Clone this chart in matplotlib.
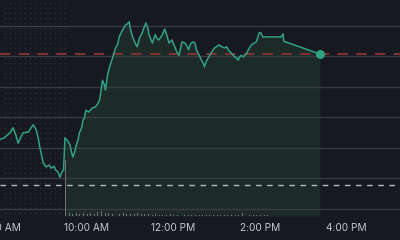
import numpy as np
import matplotlib
matplotlib.use('Agg')
import matplotlib.pyplot as plt

# intraday price, time in minutes after midnight
pre_times = [480, 485, 490, 494, 498, 502, 505, 509, 512, 519, 523, 526, 530, 533,
             535, 540, 544, 548, 551, 555, 557, 560, 563, 566, 568]
pre_prices = [11.64, 11.66, 11.71, 11.75, 11.83, 11.71, 11.58, 11.68, 11.75, 11.76,
              11.83, 11.88, 11.80, 11.66, 11.52, 11.25, 11.19, 11.22, 11.17, 11.20,
              11.14, 11.11, 11.02, 11.11, 11.14]

reg_times = [570, 573, 577, 579, 581, 584, 585, 588, 590, 593, 595, 597, 599, 603,
             608, 612, 615, 618, 622, 625, 626, 629, 632, 636, 640, 643, 645, 649,
             654, 656, 659, 660, 663, 667, 670, 673, 677, 679, 682, 685, 686, 691,
             695, 697, 700, 704, 708, 711, 714, 718, 722, 725, 728, 732, 736, 739,
             741, 744, 747, 750, 752, 757, 759, 762, 763, 766, 769, 773, 777, 780,
             783, 787, 791, 794, 796, 800, 803, 805, 807, 810, 811, 814, 817, 818,
             821, 824, 828, 832, 835, 839, 841, 844, 851, 869, 872, 873, 923]
reg_prices = [11.66, 11.63, 11.55, 11.43, 11.35, 11.46, 11.52, 11.63, 11.75, 11.83,
              11.96, 11.99, 12.12, 12.09, 12.16, 12.17, 12.22, 12.29, 12.61, 12.52,
              12.45, 12.70, 12.84, 12.98, 13.14, 13.20, 13.32, 13.42, 13.52, 13.53,
              13.57, 13.48, 13.34, 13.22, 13.16, 13.30, 13.39, 13.46, 13.55, 13.46,
              13.37, 13.22, 13.36, 13.30, 13.27, 13.34, 13.45, 13.35, 13.22, 13.27,
              13.16, 13.07, 13.02, 13.24, 13.22, 13.17, 13.11, 13.21, 13.24, 13.22,
              13.11, 12.99, 12.94, 12.88, 12.83, 12.93, 12.99, 13.07, 13.14, 13.16,
              13.19, 13.16, 13.14, 13.16, 13.11, 13.06, 13.02, 12.99, 12.98, 12.94,
              12.98, 13.02, 12.99, 13.01, 13.04, 13.11, 13.19, 13.22, 13.24, 13.39,
              13.39, 13.32, 13.32, 13.32, 13.37, 13.25, 13.04]

prev_close = 13.04
low_level = 10.89

# volume (thousands) per 5-minute bucket from the open
vol_start = 570
volumes = [1120, 60, 40, 60, 40, 60, 40, 60, 40, 80, 100, 60, 60, 40, 60, 40,
           60, 40, 40, 40, 60, 40, 40, 40, 20, 40, 20, 20, 20, 40, 20, 20, 20,
           20, 20, 20, 20, 20, 20, 20, 20, 20, 20, 20, 20, 20, 20, 20, 20, 60,
           20, 20, 20, 20, 20, 20, 20]

tick_minutes = [480, 600, 720, 840, 960]
tick_labels = ['8:00 AM', '10:00 AM', '12:00 PM', '2:00 PM', '4:00 PM']

bg = '#16191f'
line_c = '#33a184'
fill_c = '#1c2b28'
grid_c = '#383b41'
text_c = '#c4c7cc'

plt.rcParams['font.family'] = ['Inter', 'DejaVu Sans']

fig = plt.figure(figsize=(4, 2.4), dpi=100, facecolor=bg)
ax = fig.add_axes([0, 0.1, 1, 0.9])
ax.set_facecolor(bg)

xmin, xmax = 484.7, 1033.9
ymin, ymax = 10.385, 13.926
ax.set_xlim(xmin, xmax)
ax.set_ylim(ymin, ymax)

# pre-market dotted texture
gx, gy = np.meshgrid(np.arange(xmin + 2, 570, 6.9), np.arange(ymin + 0.05, ymax, 0.082))
ax.scatter(gx.ravel(), gy.ravel(), s=0.9, color='#30343b', linewidths=0, zorder=1)

# regular session fill
ax.fill_between(reg_times, reg_prices, ymin, color=fill_c, zorder=1, linewidth=0)

for lvl in [13.5, 13.0, 12.5, 12.0, 11.5, 11.0, 10.5]:
    ax.axhline(lvl, color=grid_c, lw=1, zorder=2)

ax.plot(pre_times, pre_prices, color=line_c, lw=1.1, zorder=4)
ax.plot([pre_times[-1], reg_times[0]], [pre_prices[-1], reg_prices[0]], color=line_c, lw=1.1, zorder=4)
ax.plot(reg_times, reg_prices, color=line_c, lw=1.1, zorder=4)

ax.axhline(prev_close, color='#7d3232', lw=1.5, dashes=(5, 4), zorder=3)
ax.axhline(low_level, color='#b8babd', lw=1, dashes=(4, 4), zorder=3)

ax.scatter([reg_times[-1]], [reg_prices[-1]], s=42, color=line_c, zorder=6, linewidths=0)

ax.set_xticks(tick_minutes)
ax.set_xticklabels(tick_labels, color=text_c, fontsize=7.3)
ax.tick_params(axis='x', length=0, pad=5)
ax.set_yticks([])
for s in ax.spines.values():
    s.set_visible(False)

# volume on its own scale at the bottom, drawn above the price axes
vax = ax.twinx()
vax.set_ylim(0, 216 * 20)
vtimes = vol_start + 5 * np.arange(len(volumes))
vax.bar(vtimes, volumes, width=1.3, align='edge', color='#6f7277')
vax.set_axis_off()
vax.patch.set_visible(False)
vax.set_zorder(ax.get_zorder() + 1)

fig.savefig('out.png', dpi=100, facecolor=bg)
